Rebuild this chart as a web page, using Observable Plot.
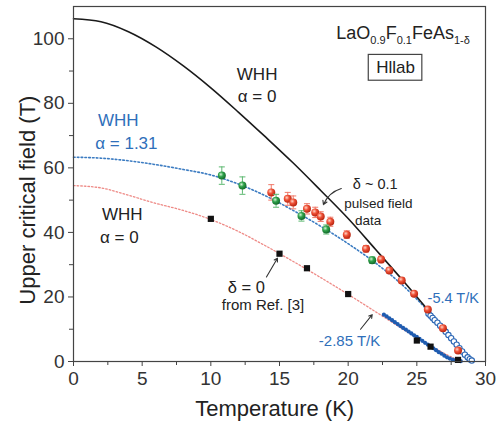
<!DOCTYPE html>
<html>
<head>
<meta charset="utf-8">
<script src="https://cdn.jsdelivr.net/npm/d3@7"></script>
<script src="https://cdn.jsdelivr.net/npm/@observablehq/plot@0.6"></script>
<style>
  body { margin: 0; background: #fff; }
  #chart svg { display: block; }
</style>
</head>
<body>
<div id="chart"></div>
<script>
// WHH curve, alpha = 0, fitted to the pulsed-field slope (T in K, Hc2 in T)
const whhPureT = [0, 2, 4, 6, 8, 10, 12, 14, 16, 18, 20, 22, 24, 26, 28, 29];
const whhPureH = [106.2, 105.3, 102.2, 97.5, 91.6, 84.8, 77.3, 69.5, 61.5, 53.0, 44.3, 34.7, 25.0, 15.0, 5.0, 0];

// WHH curve, alpha = 1.31
const whhSpinT = [0, 2, 4, 6, 8, 10, 12, 14, 16, 18, 20, 22, 24, 26, 27, 28, 28.8];
const whhSpinH = [63.3, 63.0, 62.2, 61.0, 59.5, 57.8, 55.0, 51.3, 46.8, 41.9, 36.5, 30.5, 23.5, 14.8, 10.0, 4.0, 0];

// WHH curve, alpha = 0, for the delta = 0 sample
const whhRefT = [0, 2, 4, 6, 8, 10, 12, 14, 16, 18, 20, 22, 24, 26, 27, 28.2];
const whhRefH = [54.5, 53.8, 51.5, 49.0, 46.8, 44.0, 40.3, 35.8, 31.0, 26.0, 20.8, 15.4, 10.0, 4.8, 2.5, 0];

// Pulsed-field data, delta ~ 0.1 (red and green runs)
const redT = [14.4, 15.6, 16.0, 17.0, 17.6, 18.0, 18.7, 19.9, 21.3, 22.4, 23.0, 23.9, 24.8, 25.8, 26.9, 28.0];
const redH = [52.4, 50.4, 49.3, 47.3, 46.2, 44.9, 43.3, 39.3, 34.9, 31.6, 28.2, 25.1, 21.0, 16.1, 10.3, 3.4];
const redErr = [2.4, 2.0, 2.0, 1.6, 1.6, 1.5, 1.4, 1.2, 1.0, 1.0, 0.8, 0.8, 0.6, 0.6, 0.5, 0.5];

const greenT = [10.8, 12.3, 14.75, 16.6, 18.4, 21.75];
const greenH = [57.6, 54.5, 49.8, 45.1, 40.9, 31.4];
const greenErr = [2.7, 2.7, 2.0, 1.6, 1.4, 1.0];

// delta = 0, from Ref. [3]
const refT = [10, 15, 17, 20, 25, 26, 28];
const refH = [44.2, 33.4, 28.9, 20.9, 6.5, 4.6, 0.5];

// Low-field data near Tc, slope -2.85 T/K
const lowT = [22.6, 22.8, 23.0, 23.2, 23.4, 23.6, 23.8, 24.0, 24.2, 24.4, 24.6, 24.8, 25.0, 25.2, 25.4, 25.6, 25.8, 26.0, 26.2, 26.4, 26.6, 26.8, 27.0, 27.2, 27.4, 27.6, 27.8, 28.0, 28.2];
const lowH = [14.5, 14.0, 13.4, 12.8, 12.2, 11.6, 11.0, 10.4, 9.9, 9.3, 8.7, 8.1, 7.6, 7.0, 6.4, 5.8, 5.2, 4.7, 4.1, 3.5, 2.9, 2.4, 1.8, 1.3, 0.9, 0.6, 0.35, 0.2, 0.1];

// Low-field data near Tc, slope -5.4 T/K
const steepT = [25.85, 26.0, 26.15, 26.3, 26.5, 26.7, 26.9, 27.1, 27.3, 27.5, 27.7, 27.9, 28.1, 28.3, 28.5, 28.7, 28.85, 29.0];
const steepH = [14.8, 14.2, 13.5, 12.8, 12.0, 11.1, 10.2, 9.2, 8.2, 7.2, 6.2, 5.2, 4.1, 3.1, 2.1, 1.3, 0.7, 0.3];

// Axis ticks
const xMajor = [0, 5, 10, 15, 20, 25, 30];
const xMinor = [2.5, 7.5, 12.5, 17.5, 22.5, 27.5];
const yMajor = [0, 20, 40, 60, 80, 100];
const yMinor = [10, 30, 50, 70, 90];

// Compound label with subscripts
const formulaParts = [["LaO", false], ["0.9", true], ["F", false], ["0.1", true], ["FeAs", false], ["1-δ", true]];
const formulaText = formulaParts.map(d => d[0]).join("");

const pts = (T, H) => T.map((t, i) => ({T: t, H: H[i]}));
const withErr = (T, H, E) => T.map((t, i) => ({T: t, H: H[i], e: E[i]}));

const whhPure = pts(whhPureT, whhPureH);
const whhSpin = pts(whhSpinT, whhSpinH);
const whhRef = pts(whhRefT, whhRefH);
const red = withErr(redT, redH, redErr);
const green = withErr(greenT, greenH, greenErr);
const ref = pts(refT, refH);
const low = pts(lowT, lowH);
const steep = pts(steepT, steepH);

const blue = "#2f6fba";
const font = "'Liberation Sans', Arial, Helvetica, sans-serif";

const errorMarks = (data, color) => [
  Plot.ruleX(data, {x: "T", y1: d => d.H - d.e, y2: d => d.H + d.e, stroke: color, strokeWidth: 1}),
  Plot.link(data, {x1: d => d.T - 0.22, x2: d => d.T + 0.22, y1: d => d.H + d.e, y2: d => d.H + d.e, stroke: color, strokeWidth: 1}),
  Plot.link(data, {x1: d => d.T - 0.22, x2: d => d.T + 0.22, y1: d => d.H - d.e, y2: d => d.H - d.e, stroke: color, strokeWidth: 1})
];

const chart = Plot.plot({
  width: 496,
  height: 425,
  marginLeft: 73,
  marginRight: 11,
  marginTop: 6,
  marginBottom: 64,
  style: {fontFamily: font, color: "#333", background: "#fff"},
  x: {domain: [0, 30]},
  y: {domain: [0, 110]},
  marks: [
    // theory curves
    Plot.line(whhRef, {x: "T", y: "H", curve: "monotone-x", stroke: "#ee8a86", strokeWidth: 1.3, strokeDasharray: "1.6 2"}),
    Plot.line(whhSpin, {x: "T", y: "H", curve: "monotone-x", stroke: "#3c7cc2", strokeWidth: 1.6, strokeDasharray: "1.6 2.2"}),
    Plot.line(whhPure, {x: "T", y: "H", curve: "monotone-x", stroke: "#1a1a1a", strokeWidth: 1.6}),

    // low-field data near Tc
    Plot.line(low, {x: "T", y: "H", stroke: "#1f5cb0", strokeWidth: 1.4}),
    Plot.dot(low, {x: "T", y: "H", r: 2.1, fill: "#1f5cb0"}),
    Plot.line(steep, {x: "T", y: "H", stroke: "#2a66b5", strokeWidth: 1}),
    Plot.dot(steep, {x: "T", y: "H", r: 2.7, fill: "#fff", stroke: "#2a66b5", strokeWidth: 1.1}),

    // delta = 0 reference data
    Plot.dot(ref, {x: "T", y: "H", symbol: "square", r: 3.5, fill: "#111"}),

    // pulsed-field data
    ...errorMarks(red, "#f07a6a"),
    Plot.dot(red, {x: "T", y: "H", r: 4, fill: "url(#sphRed)"}),
    ...errorMarks(green, "#5cb870"),
    Plot.dot(green, {x: "T", y: "H", r: 4, fill: "url(#sphGreen)"}),

    // axes
    Plot.axisX({ticks: xMajor, tickSize: 5, tickPadding: 5, fontSize: 19, label: null, stroke: "#444"}),
    Plot.axisX({ticks: xMinor, tickSize: 4, tickFormat: () => "", label: null, stroke: "#444"}),
    Plot.axisY({ticks: yMajor, tickSize: 5, tickPadding: 4, fontSize: 19, label: null, stroke: "#444"}),
    Plot.axisY({ticks: yMinor, tickSize: 4, tickFormat: () => "", label: null, stroke: "#444"}),
    Plot.frame({stroke: "#444", strokeWidth: 1.2}),

    // axis titles
    Plot.text(["Temperature (K)"], {x: 14.65, y: 0, dy: 47, fontSize: 22, fill: "#222", lineAnchor: "middle"}),
    Plot.text(["Upper critical field (T)"], {x: 0, y: 50, dx: -46, rotate: -90, fontSize: 22, fill: "#222", lineAnchor: "middle"}),

    // compound and lab tag
    Plot.text([formulaText], {x: 24.0, y: 101.6, fontSize: 18, fill: "#222", lineAnchor: "middle"}),
    Plot.rect([0], {x1: 21.5, x2: 25.4, y1: 87.0, y2: 95.0, fill: "#fff", stroke: "#444", strokeWidth: 1.2}),
    Plot.text(["Hllab"], {x: 23.45, y: 91.0, fontSize: 17, fill: "#222", lineAnchor: "middle"}),

    // curve labels
    Plot.text(["WHH"], {x: 13.37, y: 89.0, fontSize: 17, fill: "#222", lineAnchor: "middle"}),
    Plot.text(["α = 0"], {x: 13.37, y: 82.0, fontSize: 17, fill: "#222", lineAnchor: "middle"}),
    Plot.text(["WHH"], {x: 3.26, y: 74.6, fontSize: 17, fill: blue, lineAnchor: "middle"}),
    Plot.text(["α = 1.31"], {x: 3.85, y: 67.5, fontSize: 17, fill: blue, lineAnchor: "middle"}),
    Plot.text(["WHH"], {x: 3.55, y: 45.5, fontSize: 17, fill: "#222", lineAnchor: "middle"}),
    Plot.text(["α = 0"], {x: 3.34, y: 38.4, fontSize: 17, fill: "#222", lineAnchor: "middle"}),

    // data labels
    Plot.text(["δ ~ 0.1"], {x: 21.97, y: 54.8, fontSize: 14.5, fill: "#222", lineAnchor: "middle"}),
    Plot.text(["pulsed field"], {x: 22.2, y: 48.9, fontSize: 13.5, fill: "#222", lineAnchor: "middle"}),
    Plot.text(["data"], {x: 21.46, y: 43.65, fontSize: 13.5, fill: "#222", lineAnchor: "middle"}),
    Plot.arrow([0], {x1: 19.5, y1: 53.6, x2: 18.2, y2: 48.6, bend: -25, stroke: "#333", strokeWidth: 1.1, headLength: 6}),

    Plot.text(["δ = 0"], {x: 12.58, y: 22.9, fontSize: 16.5, fill: "#222", lineAnchor: "middle"}),
    Plot.text(["from Ref. [3]"], {x: 13.8, y: 17.3, fontSize: 15, fill: "#222", lineAnchor: "middle"}),
    Plot.arrow([0], {x1: 14.05, y1: 26.2, x2: 14.85, y2: 32.0, stroke: "#333", strokeWidth: 1.1, headLength: 5}),

    Plot.text(["-2.85 T/K"], {x: 20.1, y: 6.2, fontSize: 15, fill: blue, lineAnchor: "middle"}),
    Plot.arrow([0], {x1: 20.9, y1: 10.0, x2: 21.75, y2: 14.5, stroke: "#333", strokeWidth: 1.1, headLength: 5}),
    Plot.text(["-5.4 T/K"], {x: 27.65, y: 19.5, fontSize: 14.5, fill: blue, lineAnchor: "middle"})
  ]
});

// glossy sphere fills for the pulsed-field markers
const svg = d3.select(chart);
const defs = svg.insert("defs", ":first-child");
function sphere(id, hi, mid, lo) {
  const g = defs.append("radialGradient").attr("id", id)
    .attr("cx", "38%").attr("cy", "35%").attr("r", "65%");
  g.append("stop").attr("offset", "0%").attr("stop-color", hi);
  g.append("stop").attr("offset", "45%").attr("stop-color", mid);
  g.append("stop").attr("offset", "100%").attr("stop-color", lo);
}
sphere("sphRed", "#ffd6c8", "#ef5238", "#b9240f");
sphere("sphGreen", "#d4f3d6", "#2fa34b", "#146a2a");

// render the compound formula with subscripts (shift in px so it returns to the baseline)
const subShift = 5;
svg.selectAll("text").each(function () {
  if (this.textContent !== formulaText) return;
  const t = d3.select(this);
  t.text(null);
  let wasSub = false;
  formulaParts.forEach(([s, sub]) => {
    const span = t.append("tspan").text(s);
    if (sub) span.attr("font-size", 11);
    if (sub && !wasSub) span.attr("dy", subShift);
    else if (!sub && wasSub) span.attr("dy", -subShift);
    wasSub = sub;
  });
});

document.getElementById("chart").appendChild(chart);
</script>
</body>
</html>
